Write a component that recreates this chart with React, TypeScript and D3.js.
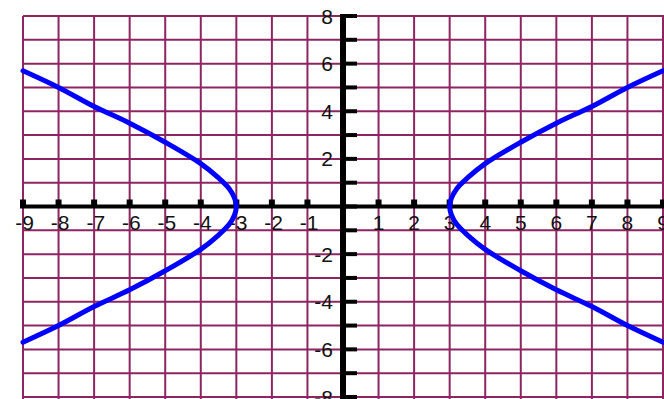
import React, { useEffect, useRef } from 'react'
import * as d3 from 'd3'

// values (upper-right branch, mirrored for the rest)
const branchX = [9, 8, 7, 6, 5, 4, 3.5, 3.2, 3.05, 3]
const branchY = [5.7, 5.0, 4.2, 3.5, 2.7, 1.8, 1.2, 0.75, 0.35, 0]

const xTicks = [-9, -8, -7, -6, -5, -4, -3, -2, -1, 1, 2, 3, 4, 5, 6, 7, 8, 9]
const yTicks = [-8, -7, -6, -5, -4, -3, -2, -1, 1, 2, 3, 4, 5, 6, 7, 8]
const yLabels = [-8, -6, -4, -2, 2, 4, 6, 8]

export default function App() {
    const svgRef = useRef<SVGSVGElement>(null)

    const width = 664
    const height = 399

    useEffect(() => {
        const svg = d3.select(svgRef.current)
        svg.selectAll('*').remove()

        const x = d3.scaleLinear().domain([-9, 9]).range([23, 663])
        const y = d3.scaleLinear().domain([8, -8]).range([16, 397])

        svg.append('rect').attr('width', width).attr('height', height).attr('fill', '#fff')

        const grid = svg.append('g').attr('stroke', '#8e2462').attr('stroke-width', 2)
        d3.range(-9, 10).forEach((v) => {
            grid.append('line')
                .attr('x1', x(v)).attr('x2', x(v))
                .attr('y1', y(8)).attr('y2', height)
        })
        d3.range(-8, 9).forEach((v) => {
            grid.append('line')
                .attr('x1', x(-9)).attr('x2', width)
                .attr('y1', y(v)).attr('y2', y(v))
        })

        // axes
        const axes = svg.append('g').attr('fill', '#000')
        axes.append('rect')
            .attr('x', x(-9) - 3).attr('y', y(0) - 2)
            .attr('width', width - x(-9) + 3).attr('height', 4)
        xTicks.forEach((v) => {
            axes.append('rect')
                .attr('x', x(v) - 3).attr('y', y(0) - 7)
                .attr('width', 6).attr('height', 6)
        })
        axes.append('rect')
            .attr('x', x(0) - 3).attr('y', y(8) - 2)
            .attr('width', 6).attr('height', height - y(8) + 2)
        yTicks.concat([0]).forEach((v) => {
            axes.append('rect')
                .attr('x', x(0)).attr('y', y(v) - 2)
                .attr('width', 14).attr('height', 4)
        })

        const labels = svg.append('g')
            .attr('font-family', 'Liberation Sans, Arial, sans-serif')
            .attr('font-size', 21)
            .attr('fill', '#111')
        xTicks.forEach((v) => {
            labels.append('text')
                .attr('x', v < 0 ? x(v) + 11 : x(v))
                .attr('y', y(0) + 23)
                .attr('text-anchor', v < 0 ? 'end' : 'middle')
                .text(v < 0 ? `-${-v}` : `${v}`)
        })
        yLabels.forEach((v) => {
            labels.append('text')
                .attr('x', x(0) - 10)
                .attr('y', y(v))
                .attr('dy', '0.36em')
                .attr('text-anchor', 'end')
                .text(v < 0 ? `-${-v}` : `${v}`)
        })

        // hyperbola branches
        const upper = branchX.map((bx, i) => [bx, branchY[i]])
        const lower = upper.slice(0, -1).reverse().map(([px, py]) => [px, -py])
        const right = upper.concat(lower)
        const left = right.map(([px, py]) => [-px, py])

        const line = d3.line<number[]>()
            .x((d) => x(d[0]))
            .y((d) => y(d[1]))
            .curve(d3.curveCatmullRom)

        svg.append('g')
            .selectAll('path')
            .data([left, right])
            .enter()
            .append('path')
            .attr('d', line)
            .attr('fill', 'none')
            .attr('stroke', '#0000ff')
            .attr('stroke-width', 5)
            .attr('stroke-linejoin', 'round')
            .attr('stroke-linecap', 'round')
    }, [])

    return (
        <svg
            ref={svgRef}
            width={width}
            height={height}
            style={{ position: 'absolute', left: 0, top: 0, display: 'block' }}
        />
    )
}
